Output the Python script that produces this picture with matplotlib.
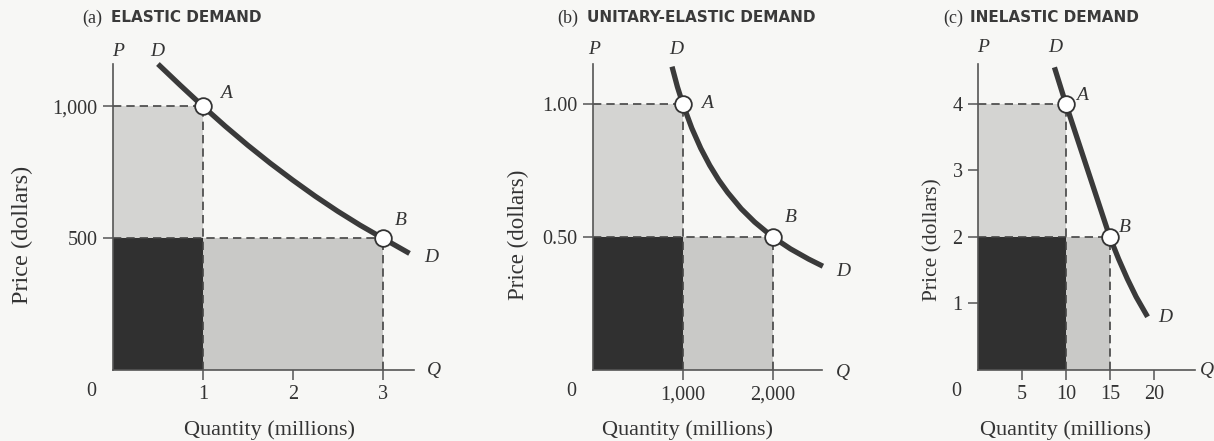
import matplotlib
matplotlib.use("Agg")
import matplotlib.pyplot as plt

W, H = 1214, 441
DPI = 100

# ---------------- data ----------------
titles_tag = ["(a)", "(b)", "(c)"]
titles = ["ELASTIC DEMAND", "UNITARY-ELASTIC DEMAND", "INELASTIC DEMAND"]

# panel (a)
a_curve_q = [0.5, 0.75, 1.0, 1.25, 1.5, 1.75, 2.0, 2.25, 2.5, 2.75, 3.0, 3.3]
a_curve_p = [1160, 1079, 1000, 924, 852, 784, 720, 659, 602, 549, 500, 442]
a_points_q = [1, 3]
a_points_p = [1000, 500]
a_xticks = [1, 2, 3]
a_xticklabels = ["1", "2", "3"]
a_yticks = [500, 1000]
a_yticklabels = ["500", "1,000"]

# panel (b)
b_curve_q = [880, 940, 1000, 1100, 1200, 1300, 1400, 1500, 1650, 1800,
             2000, 2200, 2400, 2560]
b_curve_p = [1.14, 1.064, 1.00, 0.909, 0.833, 0.769, 0.714, 0.667, 0.606,
             0.556, 0.50, 0.455, 0.417, 0.39]
b_points_q = [1000, 2000]
b_points_p = [1.00, 0.50]
b_xticks = [1000, 2000]
b_xticklabels = ["1,000", "2,000"]
b_yticks = [0.50, 1.00]
b_yticklabels = ["0.50", "1.00"]

# panel (c)
c_curve_q = [8.7, 10.0, 11.0, 12.0, 13.0, 14.0, 15.0, 16.0, 17.0, 18.0, 19.3]
c_curve_p = [4.55, 4.0, 3.6, 3.2, 2.8, 2.4, 2.0, 1.67, 1.37, 1.1, 0.8]
c_points_q = [10, 15]
c_points_p = [4, 2]
c_xticks = [5, 10, 15, 20]
c_xticklabels = ["5", "10", "15", "20"]
c_yticks = [1, 2, 3, 4]
c_yticklabels = ["1", "2", "3", "4"]

# ---------------- style ----------------
BG = "#f7f7f5"
DARK = "#303030"
LIGHT_TOP = "#d4d4d2"
LIGHT_RIGHT = "#c9c9c7"
CURVE = "#3a3a3a"
AXC = "#555555"
TXT = "#333333"
SERIF = ["Liberation Serif", "DejaVu Serif"]
SANS = ["DejaVu Sans"]

fig = plt.figure(figsize=(W / DPI, H / DPI), dpi=DPI, facecolor=BG)


def fx(px):
    return px / W


def fy(py):
    return 1 - py / H


def make_axes(x0, y0, x1, y1, xmax, ymax):
    ax = fig.add_axes([fx(x0), fy(y0), (x1 - x0) / W, (y0 - y1) / H])
    ax.set_xlim(0, xmax)
    ax.set_ylim(0, ymax)
    ax.set_facecolor("none")
    for s in ["top", "right"]:
        ax.spines[s].set_visible(False)
    for s in ["left", "bottom"]:
        ax.spines[s].set_color(AXC)
        ax.spines[s].set_linewidth(1.2)
    ax.tick_params(direction="out", length=7, width=1.1, color=AXC,
                   labelsize=14.5, labelcolor=TXT, pad=4)
    return ax


panels = [
    dict(ax=make_axes(113, 370, 414, 64, 3.35, 1160),
         cq=a_curve_q, cp=a_curve_p, pq=a_points_q, pp=a_points_p,
         xt=a_xticks, xtl=a_xticklabels, yt=a_yticks, ytl=a_yticklabels),
    dict(ax=make_axes(593, 370, 822, 64, 2550, 1.15),
         cq=b_curve_q, cp=b_curve_p, pq=b_points_q, pp=b_points_p,
         xt=b_xticks, xtl=b_xticklabels, yt=b_yticks, ytl=b_yticklabels),
    dict(ax=make_axes(978, 370, 1195, 64, 24.7, 4.6),
         cq=c_curve_q, cp=c_curve_p, pq=c_points_q, pp=c_points_p,
         xt=c_xticks, xtl=c_xticklabels, yt=c_yticks, ytl=c_yticklabels),
]

for p in panels:
    ax = p["ax"]
    q1, q2 = p["pq"]
    p1, p2 = p["pp"]
    ax.fill_between([0, q1], 0, p2, color=DARK, lw=0, zorder=1)
    ax.fill_between([0, q1], p2, p1, color=LIGHT_TOP, lw=0, zorder=1)
    ax.fill_between([q1, q2], 0, p2, color=LIGHT_RIGHT, lw=0, zorder=1)
    dash = dict(color="#444444", lw=1.2, ls=(0, (5, 3)), zorder=2)
    ax.plot([0, q1], [p1, p1], **dash)
    ax.plot([q1, q1], [0, p1], **dash)
    ax.plot([0, q2], [p2, p2], **dash)
    ax.plot([q2, q2], [0, p2], **dash)
    ax.plot(p["cq"], p["cp"], color=CURVE, lw=3.8, solid_capstyle="butt",
            solid_joinstyle="round", zorder=3, clip_on=False)
    ax.plot(p["pq"], p["pp"], "o", ms=12, mfc="white", mec="#333333",
            mew=1.3, zorder=4, clip_on=False)
    ax.set_xticks(p["xt"])
    ax.set_xticklabels(p["xtl"], family=SERIF)
    ax.set_yticks(p["yt"])
    ax.set_yticklabels(p["ytl"], family=SERIF)
    ax.annotate("0", xy=(0, 0), xycoords="data", xytext=(-22, -22),
                textcoords="offset pixels", ha="center", va="center",
                fontsize=14.5, family=SERIF, color=TXT)


def ptext(px, py, s, **kw):
    fig.text(fx(px), fy(py), s, **kw)


it = dict(family=SERIF, style="italic", fontsize=14, color=TXT,
          ha="center", va="center")

tag_kw = dict(family=SERIF, fontsize=13, color=TXT, va="center", ha="left")
ttl_kw = dict(family=SANS, fontsize=11, weight="bold", color="#3a3a3a",
              va="center", ha="left")
for tx, nx, tag, t in [(82, 111, titles_tag[0], titles[0]),
                       (557, 587, titles_tag[1], titles[1]),
                       (943, 970, titles_tag[2], titles[2])]:
    ptext(tx, 18, tag, **tag_kw)
    ptext(nx, 18, t, **ttl_kw)

for (px, py, s) in [
    (118, 52, "P"), (157, 52, "D"), (226, 94, "A"), (401, 220, "B"),
    (431, 258, "D"), (434, 370, "Q"),
    (594, 50, "P"), (676, 50, "D"), (707, 104, "A"), (791, 218, "B"),
    (843, 272, "D"), (843, 372, "Q"),
    (983, 48, "P"), (1055, 48, "D"), (1082, 95, "A"), (1125, 228, "B"),
    (1165, 318, "D"), (1207, 370, "Q"),
]:
    ptext(px, py, s, **it)

lab = dict(family=SERIF, color=TXT, ha="center", va="center")
for cx in [270, 688, 1065]:
    ptext(cx, 430, "Quantity (millions)", fontsize=16, **lab)
for (cx, cy, fs) in [(22, 235, 17.5), (518, 235, 16.5), (933, 240, 15.5)]:
    ptext(cx, cy, "Price (dollars)", rotation=90, fontsize=fs, **lab)

fig.savefig("out.png", dpi=DPI, facecolor=BG)
